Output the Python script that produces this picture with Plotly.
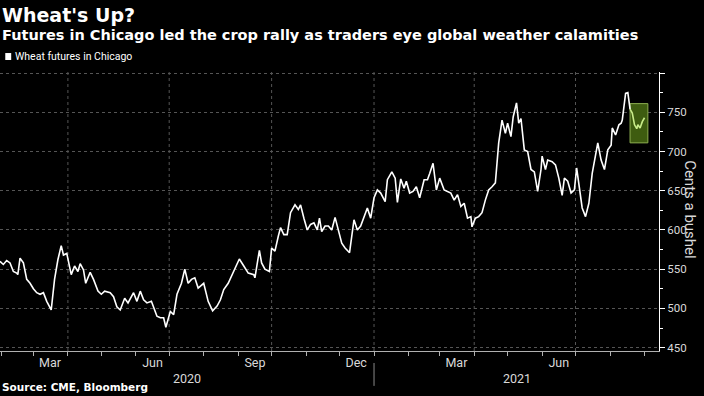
import plotly.graph_objects as go

# ---- data ----
dates = [
    "2020-01-31", "2020-02-03", "2020-02-06", "2020-02-09", "2020-02-12", "2020-02-15", "2020-02-16",
    "2020-02-18", "2020-02-21", "2020-02-24", "2020-02-27", "2020-03-01", "2020-03-04", "2020-03-07",
    "2020-03-10", "2020-03-13", "2020-03-17", "2020-03-20", "2020-03-23", "2020-03-26", "2020-03-28",
    "2020-03-31", "2020-04-04", "2020-04-07", "2020-04-10", "2020-04-12", "2020-04-15", "2020-04-17",
    "2020-04-21", "2020-04-24", "2020-04-28", "2020-05-01", "2020-05-04", "2020-05-09", "2020-05-12",
    "2020-05-15", "2020-05-18", "2020-05-22", "2020-05-25", "2020-05-30", "2020-06-02", "2020-06-05",
    "2020-06-08", "2020-06-11", "2020-06-15", "2020-06-20", "2020-06-23", "2020-06-26", "2020-06-28",
    "2020-07-02", "2020-07-05", "2020-07-08", "2020-07-12", "2020-07-15", "2020-07-18", "2020-07-21",
    "2020-07-24", "2020-07-27", "2020-08-01", "2020-08-05", "2020-08-09", "2020-08-13", "2020-08-16",
    "2020-08-19", "2020-08-23", "2020-08-28", "2020-09-02", "2020-09-06", "2020-09-10", "2020-09-15",
    "2020-09-16", "2020-09-20", "2020-09-22", "2020-09-25", "2020-09-29", "2020-10-01", "2020-10-04",
    "2020-10-07", "2020-10-09", "2020-10-12", "2020-10-15", "2020-10-18", "2020-10-22", "2020-10-25",
    "2020-10-27", "2020-10-30", "2020-11-02", "2020-11-05", "2020-11-08", "2020-11-11", "2020-11-13",
    "2020-11-15", "2020-11-18", "2020-11-21", "2020-11-24", "2020-11-27", "2020-11-30", "2020-12-03",
    "2020-12-06", "2020-12-10", "2020-12-14", "2020-12-17", "2020-12-20", "2020-12-26", "2020-12-29",
    "2021-01-01", "2021-01-04", "2021-01-07", "2021-01-11", "2021-01-13", "2021-01-17", "2021-01-20",
    "2021-01-22", "2021-01-25", "2021-01-28", "2021-01-30", "2021-02-02", "2021-02-05", "2021-02-08",
    "2021-02-11", "2021-02-15", "2021-02-18", "2021-02-20", "2021-02-23", "2021-02-26", "2021-03-01",
    "2021-03-05", "2021-03-08", "2021-03-11", "2021-03-14", "2021-03-17", "2021-03-20", "2021-03-23",
    "2021-03-26", "2021-03-29", "2021-03-30", "2021-04-02", "2021-04-05", "2021-04-08", "2021-04-11",
    "2021-04-14", "2021-04-17", "2021-04-20", "2021-04-23", "2021-04-26", "2021-04-29", "2021-05-01",
    "2021-05-04", "2021-05-06", "2021-05-09", "2021-05-11", "2021-05-13", "2021-05-16", "2021-05-19",
    "2021-05-22", "2021-05-25", "2021-05-28", "2021-05-31", "2021-06-01", "2021-06-04", "2021-06-06",
    "2021-06-10", "2021-06-13", "2021-06-16", "2021-06-19", "2021-06-21", "2021-06-24", "2021-06-27",
    "2021-06-30", "2021-07-02", "2021-07-04", "2021-07-07", "2021-07-10", "2021-07-13", "2021-07-16",
    "2021-07-19", "2021-07-21", "2021-07-24", "2021-07-27", "2021-07-30", "2021-08-02", "2021-08-03",
    "2021-08-06", "2021-08-09", "2021-08-11", "2021-08-12", "2021-08-15", "2021-08-17", "2021-08-19",
]
cents = [
    560, 556, 561, 558, 547, 545, 543,
    564, 558, 537, 532, 525, 520, 518,
    520, 509, 498, 537, 562, 580, 568,
    570, 543, 554, 547, 557, 549, 532,
    546, 537, 522, 518, 522, 520, 515,
    502, 498, 513, 507, 520, 509, 522,
    511, 507, 509, 490, 488, 488, 476,
    496, 492, 518, 532, 550, 532, 537,
    539, 526, 532, 509, 497, 503, 511,
    524, 532, 547, 563, 554, 545, 543,
    539, 574, 558, 550, 547, 577, 573,
    592, 603, 594, 594, 622, 632, 626,
    632, 615, 600, 607, 609, 600, 615,
    598, 605, 605, 600, 616, 600, 583,
    577, 571, 613, 600, 605, 628, 615,
    641, 651, 647, 636, 664, 674, 666,
    635, 665, 653, 662, 647, 649, 655,
    641, 664, 664, 672, 685, 651, 666,
    651, 649, 647, 638, 645, 630, 634,
    615, 617, 604, 615, 617, 622, 638,
    651, 655, 660, 711, 740, 723, 736,
    719, 744, 762, 736, 742, 702, 700,
    677, 674, 649, 677, 694, 677, 689,
    687, 683, 666, 644, 666, 662, 647,
    651, 679, 660, 628, 617, 634, 672,
    694, 711, 689, 677, 702, 708, 730,
    721, 734, 736, 740, 774, 775, 754,
]
# highlighted latest stretch (green box)
recent_dates = ["2021-08-19", "2021-08-21", "2021-08-23", "2021-08-25", "2021-08-26",
                "2021-08-28", "2021-08-30", "2021-09-01"]
recent_cents = [754, 749, 734, 729, 734, 730, 738, 743]
box_dates = ["2021-08-19", "2021-09-04"]
box_cents = [711, 761]

x_range = ["2020-01-31", "2021-09-14"]
y_range = [445.7, 801.3]
y_ticks = [450, 500, 550, 600, 650, 700, 750, 800]
y_ticktext = ["450", "500", "550", "600", "650", "700", "750", ""]
month_label_dates = ["2020-03-16", "2020-06-16", "2020-09-16", "2020-12-16", "2021-03-16", "2021-06-16"]
month_labels = ["Mar", "Jun", "Sep", "Dec", "Mar", "Jun"]
month_starts = ["2020-02-01", "2020-03-01", "2020-04-01", "2020-05-01", "2020-06-01", "2020-07-01",
                "2020-08-01", "2020-09-01", "2020-10-01", "2020-11-01", "2020-12-01", "2021-01-01",
                "2021-02-01", "2021-03-01", "2021-04-01", "2021-05-01", "2021-06-01", "2021-07-01",
                "2021-08-01", "2021-09-01"]
quarter_starts = ["2020-04-01", "2020-07-01", "2020-10-01", "2021-01-01", "2021-04-01", "2021-07-01"]
year_labels = ["2020", "2021"]
year_label_dates = ["2020-07-17", "2021-05-09"]
year_break = "2021-01-01"

FONT = "Roboto"
HEAD = "DejaVu Sans"
WHITE = "#ffffff"
TICK = "#d9d9d9"
GRID = "#555555"

fig = go.Figure()
fig.add_trace(go.Scatter(x=dates, y=cents, mode="lines",
                         line=dict(color=WHITE, width=1.6), showlegend=False,
                         hoverinfo="skip"))
fig.add_trace(go.Scatter(x=recent_dates, y=recent_cents, mode="lines",
                         line=dict(color="#c9ec8a", width=1.6), showlegend=False,
                         hoverinfo="skip"))

shapes = []
for q in quarter_starts:
    shapes.append(dict(type="line", xref="x", yref="paper", x0=q, x1=q, y0=0, y1=1,
                       line=dict(color=GRID, width=1, dash="dot"), layer="between"))
shapes.append(dict(type="rect", xref="x", yref="y", x0=box_dates[0], x1=box_dates[1],
                   y0=box_cents[0], y1=box_cents[1], fillcolor="#3e5c10",
                   line=dict(color="#8db050", width=1), layer="between"))
# year separator
shapes.append(dict(type="line", xref="x", yref="paper", x0=year_break, x1=year_break,
                   y0=-0.043, y1=-0.125, line=dict(color="#8a8a8a", width=1)))
# legend swatch
shapes.append(dict(type="rect", xref="paper", yref="paper", x0=0.008, x1=0.017,
                   y0=1.043, y1=1.068, fillcolor=WHITE, line=dict(width=0)))

annotations = [
    dict(text="<b>Wheat's Up?</b>", xref="paper", yref="paper", x=0.0, y=1.205,
         xanchor="left", yanchor="middle", showarrow=False,
         font=dict(family=HEAD, size=19, color=WHITE)),
    dict(text="<b>Futures in Chicago led the crop rally as traders eye global weather calamities</b>",
         xref="paper", yref="paper", x=0.0, y=1.131, xanchor="left", yanchor="middle",
         showarrow=False, font=dict(family=HEAD, size=14.5, color=WHITE)),
    dict(text="Wheat futures in Chicago", xref="paper", yref="paper", x=0.019, y=1.055,
         xanchor="left", yanchor="middle", showarrow=False,
         font=dict(family=FONT, size=10.5, color=WHITE)),
    dict(text="<b>Source: CME, Bloomberg</b>", xref="paper", yref="paper", x=0.0, y=-0.129,
         xanchor="left", yanchor="middle", showarrow=False,
         font=dict(family=HEAD, size=10.5, color=WHITE)),
    dict(text="Cents a bushel", xref="paper", yref="paper", x=1.047, y=0.505,
         xanchor="center", yanchor="middle", textangle=90, showarrow=False,
         font=dict(family=FONT, size=15, color=TICK)),
]
for d, t in zip(year_label_dates, year_labels):
    annotations.append(dict(text=t, xref="x", yref="paper", x=d, y=-0.097,
                            xanchor="center", yanchor="middle", showarrow=False,
                            font=dict(family=FONT, size=12.5, color=TICK)))

fig.update_layout(
    width=704, height=396,
    paper_bgcolor="black", plot_bgcolor="black",
    margin=dict(l=0, r=45, t=72, b=45),
    showlegend=False,
    shapes=shapes, annotations=annotations,
    xaxis=dict(type="date", range=x_range, tickmode="array", tickvals=month_label_dates,
               ticktext=month_labels, ticks="", showgrid=False, zeroline=False,
               showline=True, linecolor="#b0b0b0", linewidth=1,
               tickfont=dict(family=FONT, size=12.5, color=TICK),
               minor=dict(tickmode="array", tickvals=month_starts, ticks="outside",
                          ticklen=4, tickcolor="#b0b0b0", showgrid=False)),
    yaxis=dict(side="right", range=y_range, tickmode="array", tickvals=y_ticks,
               ticktext=y_ticktext, ticks="outside", ticklen=5, tickcolor=WHITE,
               showline=True, linecolor=WHITE, linewidth=1, zeroline=False,
               showgrid=True, gridcolor=GRID, griddash="dot", gridwidth=1,
               tickfont=dict(family=FONT, size=11.5, color=TICK),
               minor=dict(tick0=450, dtick=25, ticks="outside", ticklen=3,
                          tickcolor=WHITE, showgrid=False)),
)

fig.write_html("out.html",
               config={"displayModeBar": False},
               post_script="document.body.style.margin='0';"
                           "document.body.style.background='black';"
                           "document.body.style.overflow='hidden';")
